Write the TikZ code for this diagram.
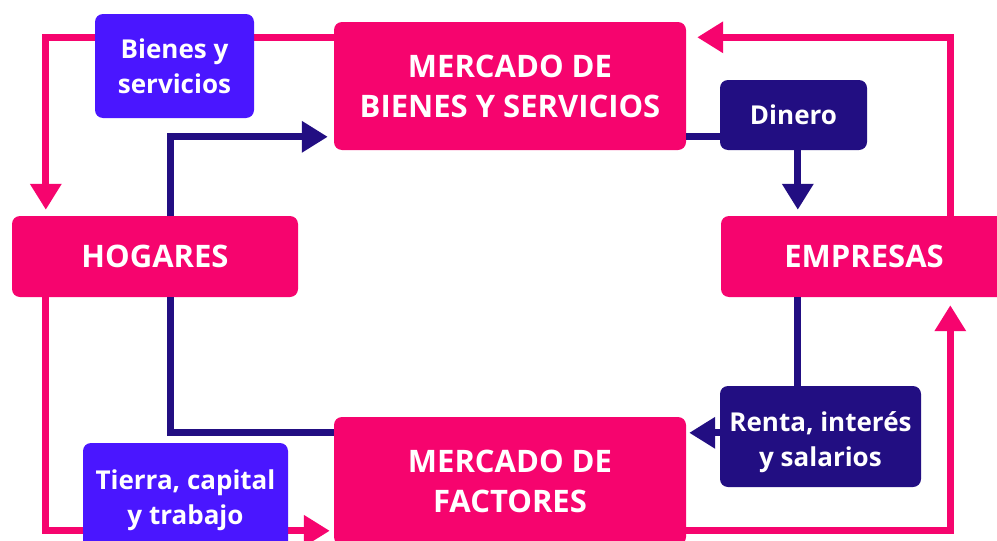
\documentclass[tikz,border=0pt]{standalone}
\usepackage{fontspec}
\setmainfont{Open Sans}
\usetikzlibrary{positioning}
\usetikzlibrary{arrows.meta}
\definecolor{flujorosa}{RGB}{246,4,110}
\definecolor{violeta}{RGB}{74,22,255}
\definecolor{marino}{RGB}{34,14,130}
\tikzset{
    x=1pt, y=-1pt,
    mercado/.style={
        fill=flujorosa,
        rounded corners=8pt,
        text=white,
        font=\bfseries\fontsize{31}{40}\selectfont,
        align=center,
        inner sep=0pt
    },
    etiqueta/.style={
        rounded corners=8pt,
        text=white,
        font=\bfseries\fontsize{26}{35}\selectfont,
        align=center,
        inner sep=0pt
    },
    rosa/.style={
        draw=flujorosa,
        line width=7pt
    },
    azul/.style={
        draw=marino,
        line width=7pt
    },
    punta/.style={
        -{Triangle[length=26pt,width=30pt]}
    }
}

\begin{document}
\begin{tikzpicture}
    \useasboundingbox (0,0) rectangle (997,541);
    \clip (0,0) rectangle (997,541);

    % mercados y agentes
    \node[mercado, minimum width=352pt, minimum height=128pt] (bienes) at (510,86) {MERCADO DE\\BIENES Y SERVICIOS};
    \node[mercado, minimum width=352pt, minimum height=128pt] (factores) at (510,481) {MERCADO DE\\FACTORES};
    \node[mercado, minimum width=286pt, minimum height=81pt] (hogares) at (155,256.5) {HOGARES};
    \node[mercado, minimum width=286pt, minimum height=81pt, text width=286pt] (empresas) at (864,256.5) {EMPRESAS};

    % flujos reales
    \draw[rosa, punta, shorten >=6pt] ([yshift=-15.5pt]bienes.north west) -| ([xshift=34pt]hogares.north west);
    \draw[rosa, punta, shorten >=11pt] ([xshift=229.5pt]empresas.north west) |- ([yshift=-15.5pt]bienes.north east);
    \draw[rosa, punta, shorten >=4pt] ([xshift=34pt]hogares.south west) |- ([yshift=-114pt]factores.north west);
    \draw[rosa, punta, shorten >=8pt] ([yshift=-114pt]factores.north east) -| ([xshift=229.5pt]empresas.south west);

    % flujos monetarios
    \draw[azul, punta, shorten >=6pt] ([xshift=158.5pt]hogares.north west) |- ([yshift=-115pt]bienes.north west);
    \draw[azul, punta, shorten >=6pt] ([yshift=-115pt]bienes.north east) -| ([xshift=77pt]empresas.north west);
    \draw[azul, punta, shorten >=3pt] ([xshift=77pt]empresas.south west) |- ([yshift=-16pt]factores.north east);
    \draw[azul] ([yshift=-16pt]factores.north west) -| ([xshift=158.5pt]hogares.south west);

    % etiquetas
    \node[etiqueta, fill=violeta, minimum width=159pt, minimum height=104pt] (bys) at (174.5,66) {Bienes y\\servicios};
    \node[etiqueta, fill=marino, minimum width=147pt, minimum height=70pt] (dinero) at (793.5,115) {Dinero};
    \node[etiqueta, fill=marino, minimum width=201pt, minimum height=101pt] (renta) at (820.5,436.5) {\rule{0pt}{32pt}Renta, interés\\y salarios};
    \node[etiqueta, fill=violeta, minimum width=205pt, minimum height=115pt] (tierra) at (185.5,500.5) {Tierra, capital\\y trabajo};
\end{tikzpicture}
\end{document}
